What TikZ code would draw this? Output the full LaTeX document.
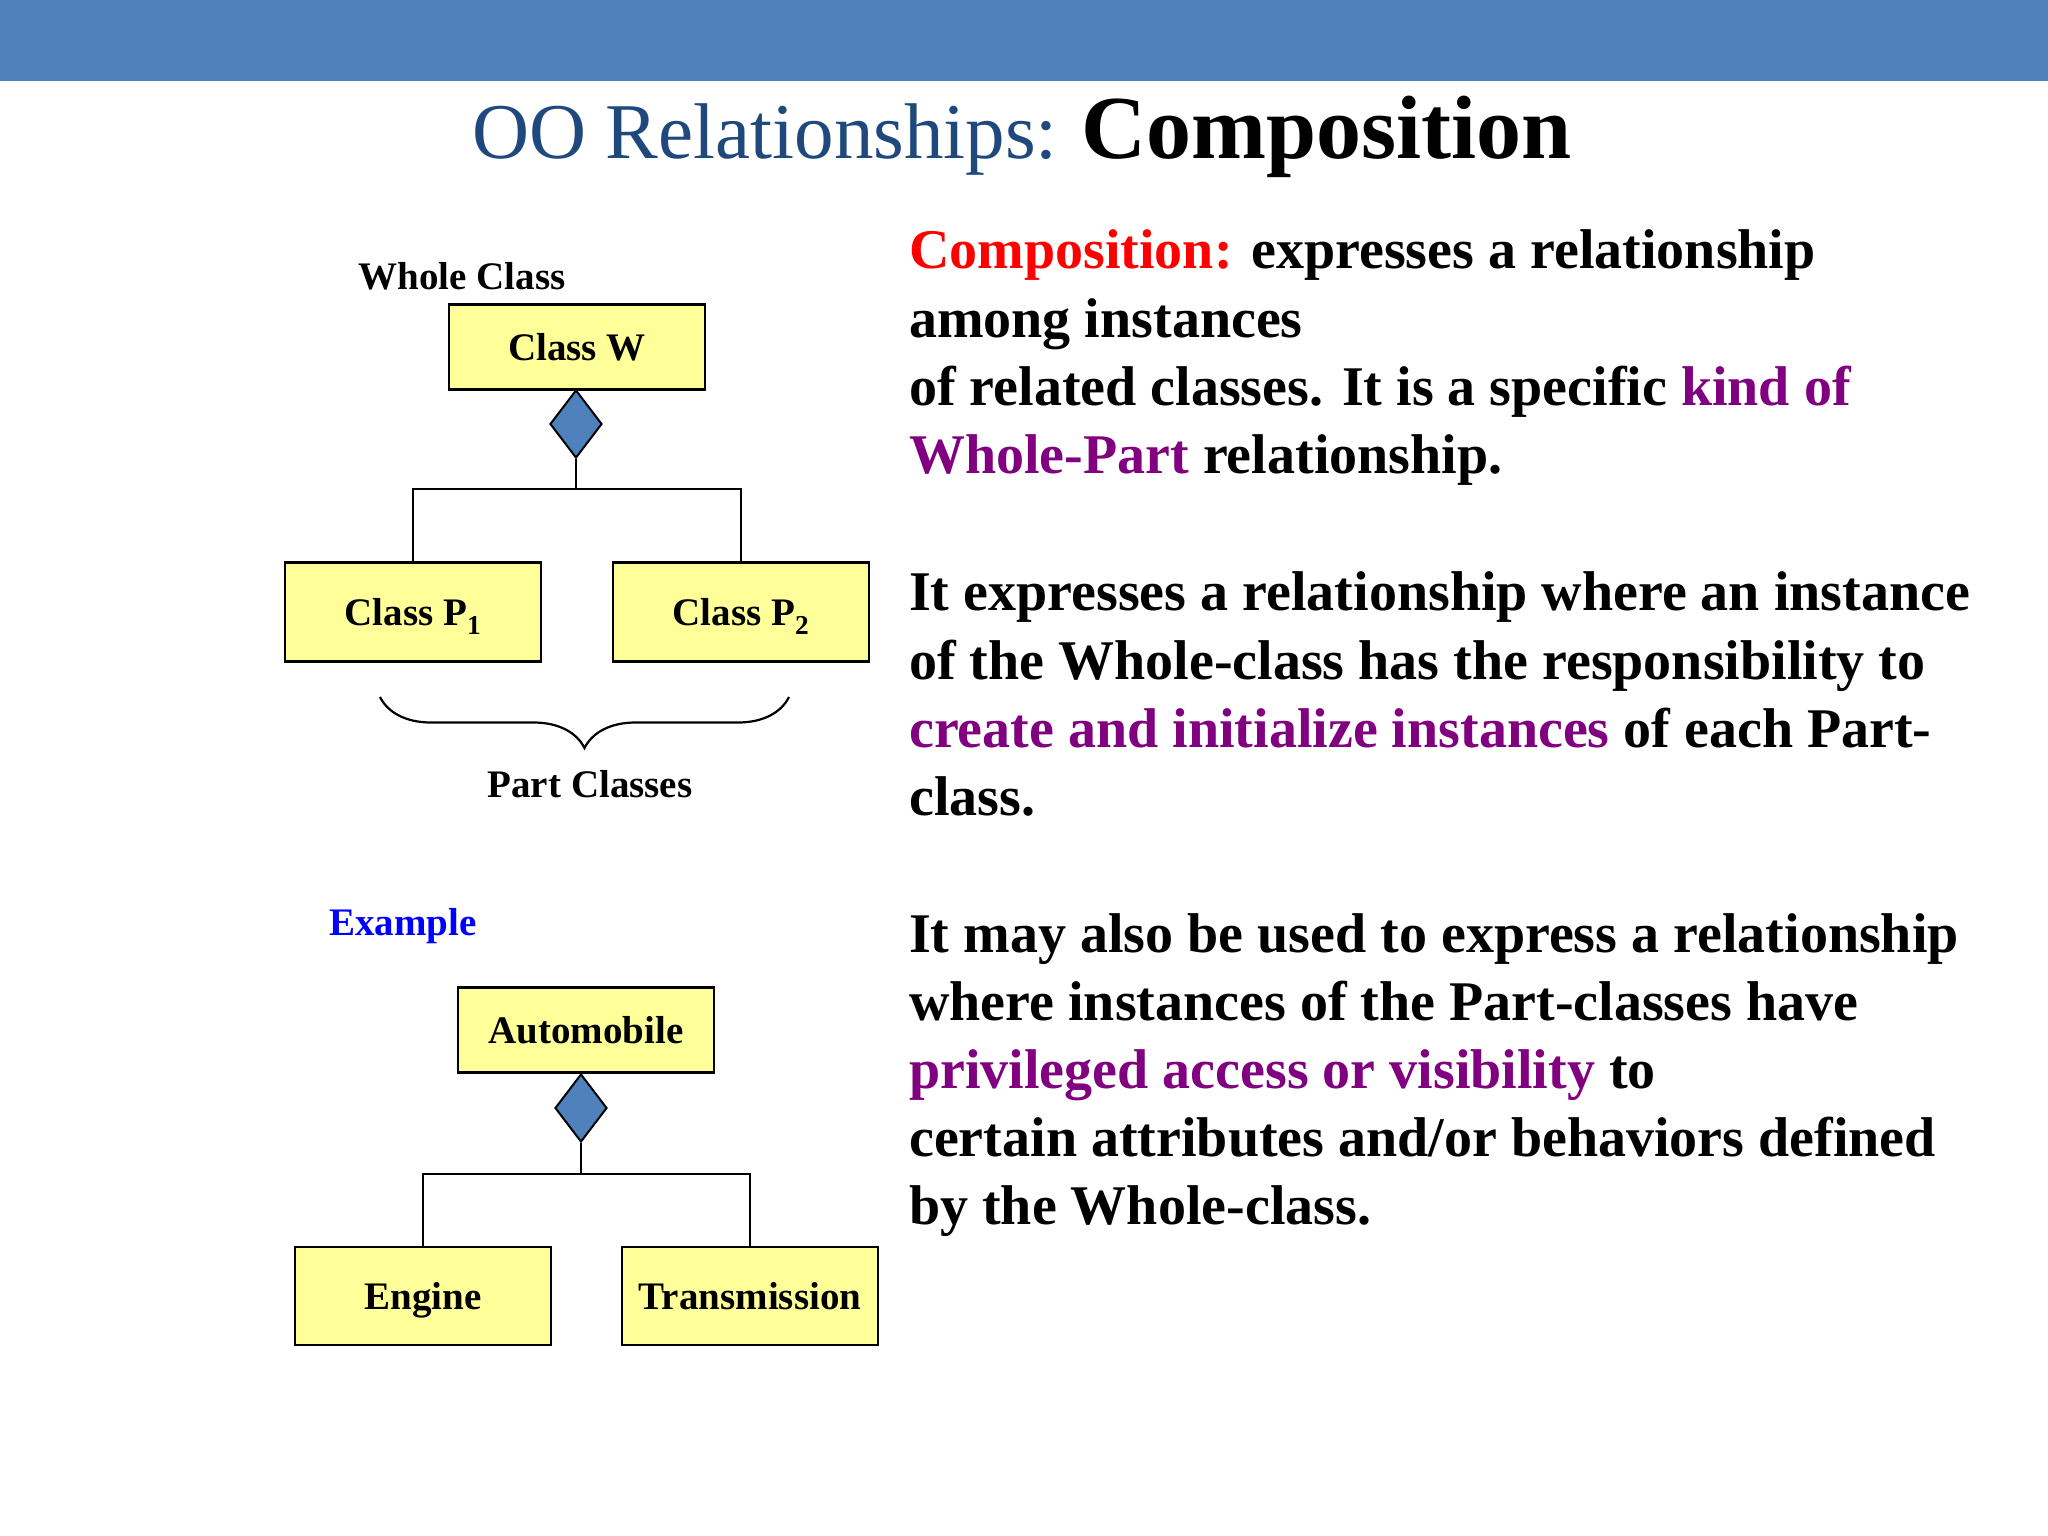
\documentclass[tikz,border=0pt]{standalone}
\usepackage{fontspec}
\setmainfont{Liberation Serif}
\usetikzlibrary{shapes.geometric,decorations.pathreplacing}
\definecolor{barblue}{RGB}{79,129,189}
\definecolor{titleblue}{RGB}{31,73,125}
\definecolor{boxyellow}{RGB}{255,255,153}
\definecolor{diamondblue}{RGB}{79,129,189}
\definecolor{hlpurple}{RGB}{128,0,128}
\definecolor{exblue}{RGB}{0,0,255}
\definecolor{hlred}{RGB}{255,0,0}
\begin{document}
\begin{tikzpicture}[x=1pt,y=-1pt,
  classbox/.style={draw=black,line width=2.5pt,fill=boxyellow,minimum width=256pt,inner sep=0pt,text height=26pt,text depth=0pt,font=\fontsize{39}{44}\selectfont\bfseries},
  agg/.style={diamond,draw=black,line width=2pt,fill=diamondblue,minimum width=52pt,minimum height=68pt,inner sep=0pt},
  conn/.style={draw=black,line width=2.2pt},
  lbl/.style={inner sep=0pt,font=\fontsize{39}{44}\selectfont\bfseries},
  bodyline/.style={anchor=base west,inner sep=0pt,font=\fontsize{56}{68}\selectfont\bfseries}
]
\useasboundingbox (0,0) rectangle (2048,1536);
\fill[white] (0,0) rectangle (2048,1536);
\fill[barblue] (0,0) rectangle (2048,81);

% title
\node[anchor=base,inner sep=0pt,font=\fontsize{79}{90}\selectfont] (title) at (1022,159)
  {\textcolor{titleblue}{OO Relationships:}\hspace{24pt}{\fontsize{90}{100}\selectfont\bfseries Composition}};

% diagram 1
\node[lbl] (wholelbl) at (462,276) {Whole Class};
\node[classbox,minimum height=85pt] (cw) at (577,347) {Class W};
\node[agg,anchor=north] (dw) at (576,389) {};
\node[classbox,minimum height=99pt] (p1) at (413,612) {Class P\textsubscript{1}};
\node[classbox,minimum height=99pt] (p2) at (741,612) {Class P\textsubscript{2}};
\draw[conn] (dw.south) -- ++(0,30) coordinate (j1);
\draw[conn] (p1.north) |- (j1) -| (p2.north);
\coordinate (brl) at (380,697);
\coordinate (brr) at (789,697);
\draw[line width=2.2pt,decorate,decoration={brace,mirror,amplitude=51pt}] (brl) -- (brr);
\node[lbl] (partlbl) at (590,784) {Part Classes};

% diagram 2
\node[lbl,text=exblue] (exlbl) at (403,926) {Example};
\node[classbox,minimum height=85pt] (auto) at (586,1030) {Automobile};
\node[agg,anchor=north] (da) at (581,1073) {};
\node[classbox,minimum height=98pt] (eng) at (423,1296) {Engine};
\node[classbox,minimum height=98pt] (trans) at (750,1296) {Transmission};
\draw[conn] (da.south) -- ++(0,31) coordinate (j2);
\draw[conn] (eng.north) |- (j2) -| (trans.north);

% right text
\node[bodyline] (l1) at (909,268) {\textcolor{hlred}{Composition:} expresses a relationship};
\node[bodyline] (l2) at (909,337) {among instances};
\node[bodyline] (l3) at (909,405) {of related classes. It is a specific \textcolor{hlpurple}{kind of}};
\node[bodyline] (l4) at (909,473) {\textcolor{hlpurple}{Whole-Part} relationship.};
\node[bodyline] (l5) at (909,610) {It expresses a relationship where an instance};
\node[bodyline] (l6) at (909,679) {of the Whole-class has the responsibility to};
\node[bodyline] (l7) at (909,747) {\textcolor{hlpurple}{create and initialize instances} of each Part-};
\node[bodyline] (l8) at (909,815) {class.};
\node[bodyline] (l9) at (909,952) {It may also be used to express a relationship};
\node[bodyline] (l10) at (909,1020) {where instances of the Part-classes have};
\node[bodyline] (l11) at (909,1088) {\textcolor{hlpurple}{privileged access or visibility} to};
\node[bodyline] (l12) at (909,1156) {certain attributes and/or behaviors defined};
\node[bodyline] (l13) at (909,1224) {by the Whole-class.};
\end{tikzpicture}
\end{document}
